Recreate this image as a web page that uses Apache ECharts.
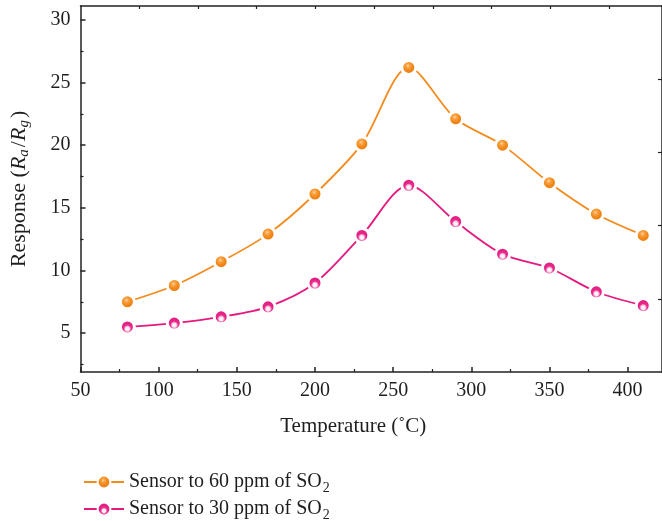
<!DOCTYPE html>
<html>
<head>
<meta charset="utf-8">
<script src="https://cdn.jsdelivr.net/npm/echarts@6/dist/echarts.min.js"></script>
<style>
  html, body { margin: 0; padding: 0; background: #fff; }
  #chart { width: 662px; height: 521px; }
</style>
</head>
<body>
<div id="chart"></div>
<script>
// Operating temperature (°C)
const temperatures = [80, 110, 140, 170, 200, 230, 260, 290, 320, 350, 380, 410];
// Response Ra/Rg for each SO2 concentration
const response60 = [7.5, 8.8, 10.7, 12.9, 16.1, 20.1, 26.2, 22.1, 20.0, 17.0, 14.5, 12.8];
const response30 = [5.5, 5.8, 6.3, 7.1, 9.0, 12.8, 16.8, 13.9, 11.3, 10.2, 8.3, 7.2];
const seriesNames = ['Sensor to 60 ppm of SO2', 'Sensor to 30 ppm of SO2'];

const xMajor = [50, 100, 150, 200, 250, 300, 350, 400];
const xMinor = [75, 125, 175, 225, 275, 325, 375];
const yMajor = [5, 10, 15, 20, 25, 30];
const yMinor = [2.5, 7.5, 12.5, 17.5, 22.5, 27.5];

const FONT = '"Liberation Serif", "DejaVu Serif", serif';
const AXIS_COLOR = '#222';
const TEXT_COLOR = '#1e1e1e';
const ORANGE = '#F28C1F';
const PINK = '#E5197E';

const toPairs = (ys) => temperatures.map((t, i) => [t, ys[i]]);

const orangeBall = {
  type: 'radial', x: 0.45, y: 0.4, r: 0.6,
  colorStops: [
    { offset: 0, color: '#FFD9A6' },
    { offset: 0.18, color: '#FAA54A' },
    { offset: 0.45, color: '#F28A1A' },
    { offset: 1, color: '#E47610' }
  ]
};
const pinkBall = {
  type: 'radial', x: 0.5, y: 0.62, r: 0.55,
  colorStops: [
    { offset: 0, color: '#FFFFFF' },
    { offset: 0.22, color: '#FCE4F0' },
    { offset: 0.42, color: '#E8288A' },
    { offset: 1, color: '#E0157A' }
  ]
};

const line = { show: true, lineStyle: { color: AXIS_COLOR, width: 1.5 } };
const noLine = { show: false };

function valueAxis(base) {
  return Object.assign({
    type: 'value',
    splitLine: { show: false },
    axisLabel: { show: false },
    axisTick: { show: false }
  }, base);
}

const xExtent = { min: 50, max: 422 };
const yExtent = { min: 1.9, max: 31.1 };

const legendText = {
  fontFamily: FONT, fontSize: 20, color: TEXT_COLOR,
  rich: {
    t: { fontFamily: FONT, fontSize: 20, color: TEXT_COLOR },
    s: { fontFamily: FONT, fontSize: 14, color: TEXT_COLOR, padding: [12, 0, 0, 1] }
  }
};
const legendFormatter = (name) => '{t|' + name.replace(/SO2$/, 'SO}{s|2}');

function legendItem(name, top) {
  return {
    orient: 'vertical',
    left: 78,
    top: top,
    itemWidth: 40,
    itemHeight: 16,
    itemGap: 0,
    formatter: legendFormatter,
    textStyle: legendText,
    data: [name]
  };
}

const chart = echarts.init(document.getElementById('chart'), null, { renderer: 'canvas' });

chart.setOption({
  animation: false,
  backgroundColor: '#fff',
  grid: { left: 79, right: -1, top: 6, bottom: 149, containLabel: false },
  legend: [legendItem(seriesNames[0], 467), legendItem(seriesNames[1], 494)],
  xAxis: [
    valueAxis(Object.assign({
      position: 'bottom',
      axisLine: line,
      axisTick: { show: true, inside: true, length: 5, lineStyle: { color: AXIS_COLOR, width: 1.5 }, customValues: xMajor },
      axisLabel: { show: true, customValues: xMajor, fontFamily: FONT, fontSize: 20, color: TEXT_COLOR, margin: 9 },
      name: 'Temperature (˚C)',
      nameLocation: 'middle',
      nameGap: 44,
      nameTextStyle: { fontFamily: FONT, fontSize: 21, color: TEXT_COLOR, padding: [0, 36, 0, 0] }
    }, xExtent)),
    valueAxis(Object.assign({
      position: 'bottom',
      axisLine: noLine,
      axisTick: { show: true, inside: true, length: 3, lineStyle: { color: AXIS_COLOR, width: 1.2 }, customValues: xMinor }
    }, xExtent)),
    valueAxis({
      position: 'top',
      min: 0, max: 9.9,
      axisLine: line,
      axisTick: { show: true, inside: true, length: 3, lineStyle: { color: AXIS_COLOR, width: 1.2 }, customValues: [1, 2, 3, 4, 5, 6, 7, 8, 9] }
    })
  ],
  yAxis: [
    valueAxis(Object.assign({
      position: 'left',
      axisLine: line,
      axisTick: { show: true, inside: true, length: 5, lineStyle: { color: AXIS_COLOR, width: 1.5 }, customValues: yMajor },
      axisLabel: { show: true, customValues: yMajor, fontFamily: FONT, fontSize: 20, color: TEXT_COLOR, margin: 10 },
      name: '{n|Response (}{i|R}{s|a}{n|/}{i|R}{s|g}{n|)}',
      nameLocation: 'middle',
      nameRotate: 90,
      nameGap: 49,
      nameTextStyle: {
        fontFamily: FONT, fontSize: 22, color: TEXT_COLOR,
        rich: {
          n: { fontFamily: FONT, fontSize: 22, color: TEXT_COLOR },
          i: { fontFamily: FONT, fontSize: 22, fontStyle: 'italic', color: TEXT_COLOR },
          s: { fontFamily: FONT, fontSize: 15, fontStyle: 'italic', color: TEXT_COLOR, padding: [10, 2, 0, 0] }
        }
      }
    }, yExtent)),
    valueAxis(Object.assign({
      position: 'left',
      axisLine: noLine,
      axisTick: { show: true, inside: true, length: 3, lineStyle: { color: AXIS_COLOR, width: 1.2 }, customValues: yMinor }
    }, yExtent)),
    valueAxis({
      position: 'right',
      min: 0, max: 5,
      axisLine: line,
      axisTick: { show: true, inside: true, length: 4, lineStyle: { color: AXIS_COLOR, width: 1.2 }, customValues: [1, 2, 3, 4] }
    })
  ],
  series: [
    {
      name: seriesNames[0],
      type: 'line',
      xAxisIndex: 0, yAxisIndex: 0,
      smooth: 0.3,
      data: toPairs(response60),
      symbol: 'circle',
      symbolSize: 14,
      lineStyle: { color: ORANGE, width: 1.8 },
      itemStyle: { color: orangeBall, borderColor: '#fff', borderWidth: 3 },
      z: 3
    },
    {
      name: seriesNames[1],
      type: 'line',
      xAxisIndex: 0, yAxisIndex: 0,
      smooth: 0.3,
      data: toPairs(response30),
      symbol: 'circle',
      symbolSize: 14,
      lineStyle: { color: PINK, width: 1.8 },
      itemStyle: { color: pinkBall, borderColor: '#fff', borderWidth: 3 },
      z: 3
    }
  ]
});
</script>
</body>
</html>
